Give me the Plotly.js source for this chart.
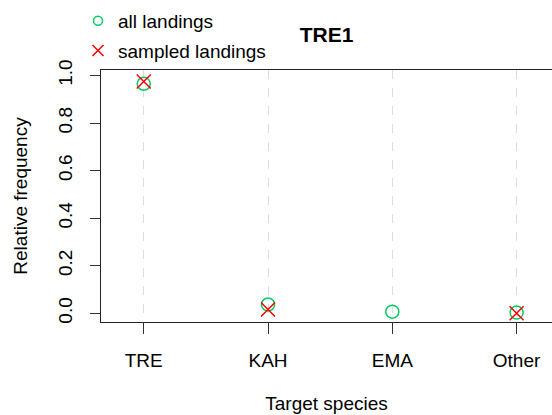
<!DOCTYPE html>
<html>
<head>
<meta charset="utf-8">
<script src="https://cdn.plot.ly/plotly-3.0.1.min.js"></script>
<style>
  html, body { margin: 0; padding: 0; background: #fff; overflow: hidden; }
  #chart { width: 552px; height: 415px; }
</style>
</head>
<body>
<div id="chart"></div>
<script>
// Target species categories (plotted at positions 1..4)
const species = ["TRE", "KAH", "EMA", "Other"];
const speciesPos = [1, 2, 3, 4];

// Relative frequency of each target species
const allLandings = [0.965, 0.037, 0.007, 0.003];
const sampledLandings = [0.975, 0.016, null, 0.0];

// Y axis ticks
const yTickVals = [0, 0.2, 0.4, 0.6, 0.8, 1.0];
const yTickText = ["0.0", "0.2", "0.4", "0.6", "0.8", "1.0"];

const green = "#00CD66";
const red = "#FF0000";
const font = "Liberation Sans, Arial, sans-serif";

const traces = [
  {
    x: speciesPos, y: allLandings, type: "scatter", mode: "markers",
    name: "all landings", showlegend: false, cliponaxis: false,
    marker: { symbol: "circle-open", size: 13, color: green, line: { width: 1.5, color: green } }
  },
  {
    x: speciesPos, y: sampledLandings, type: "scatter", mode: "markers",
    name: "sampled landings", showlegend: false, cliponaxis: false,
    marker: { symbol: "x-thin-open", size: 14, color: red, line: { width: 1.5, color: red } }
  },
  // legend keys (smaller symbols than the plotted points)
  {
    x: [null], y: [null], type: "scatter", mode: "markers", name: "all landings",
    legendgroup: "a",
    marker: { symbol: "circle-open", size: 9, color: green, line: { width: 1.5, color: green } }
  },
  {
    x: [null], y: [null], type: "scatter", mode: "markers", name: "sampled landings",
    legendgroup: "b",
    marker: { symbol: "x-thin-open", size: 11, color: red, line: { width: 1.5, color: red } }
  }
];

const layout = {
  width: 552, height: 415,
  margin: { l: 101, r: 0, t: 70, b: 93, pad: 0 },
  paper_bgcolor: "#fff", plot_bgcolor: "#fff",
  font: { family: font, size: 19, color: "#000" },
  title: {
    text: "<b>TRE1</b>", font: { family: font, size: 21, color: "#000" },
    x: 0.5, xref: "paper", xanchor: "center",
    y: 44, yref: "container", yanchor: "middle"
  },
  showlegend: true,
  legend: {
    x: -0.051, xanchor: "left", y: 1.27, yanchor: "top",
    bgcolor: "rgba(0,0,0,0)", borderwidth: 0,
    font: { family: font, size: 19, color: "#000" },
    tracegroupgap: 2
  },
  xaxis: {
    range: [0.656, 4.285],
    tickvals: speciesPos, ticktext: species,
    ticks: "outside", ticklen: 11, tickcolor: "#333", tickwidth: 1,
    ticklabelstandoff: 10,
    showline: true, mirror: true, linecolor: "#222", linewidth: 1,
    showgrid: true, gridcolor: "#dddddd", gridwidth: 1, griddash: "dash",
    zeroline: false,
    title: { text: "Target species", standoff: 26, font: { family: font, size: 19 } },
    automargin: false
  },
  yaxis: {
    range: [-0.0366, 1.023],
    tickvals: yTickVals, ticktext: yTickText, tickangle: -90,
    ticks: "outside", ticklen: 10, tickcolor: "#333", tickwidth: 1,
    ticklabelstandoff: 10,
    showline: true, linecolor: "#222", linewidth: 1,
    showgrid: false, zeroline: false,
    title: { text: "Relative frequency", standoff: 22, font: { family: font, size: 19 } },
    automargin: false
  }
};

Plotly.newPlot("chart", traces, layout, { displayModeBar: false, staticPlot: true });
</script>
</body>
</html>
